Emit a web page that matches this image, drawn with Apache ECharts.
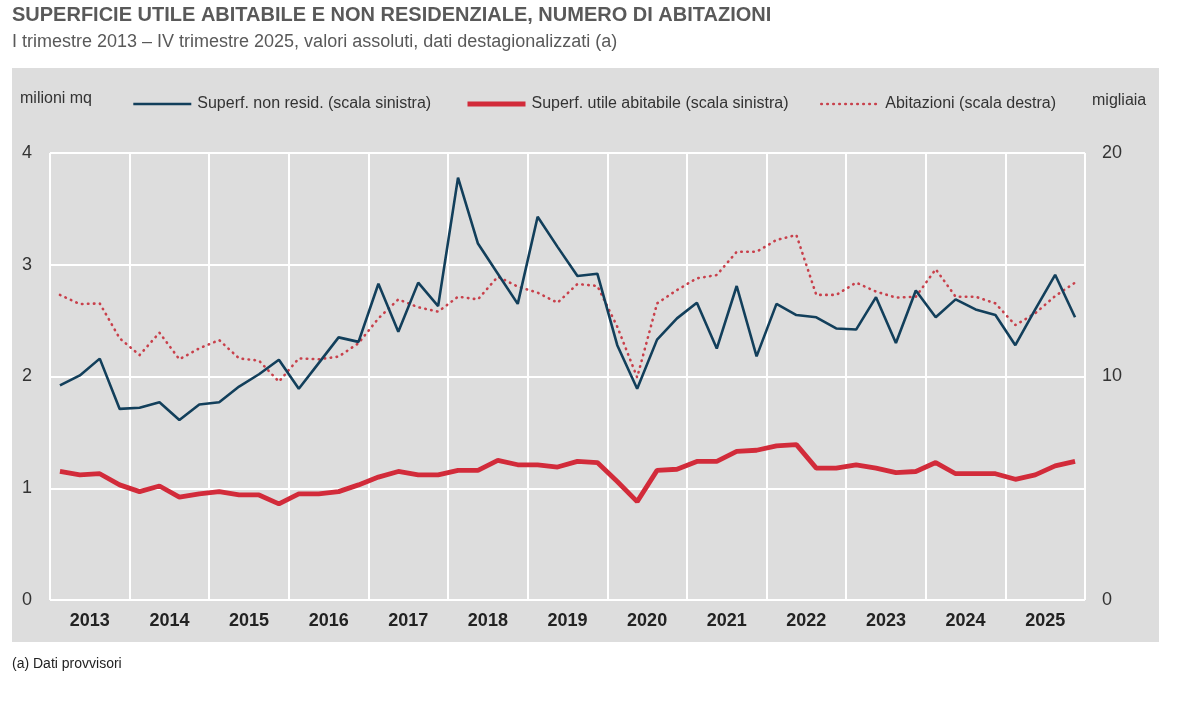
<!DOCTYPE html>
<html>
<head>
<meta charset="utf-8">
<script src="https://cdn.jsdelivr.net/npm/echarts@6/dist/echarts.min.js"></script>
<style>
  html, body { margin: 0; padding: 0; background: #fff; }
  #main { width: 1200px; height: 708px; }
</style>
</head>
<body>
<div id="main"></div>
<script>
// years on the axis, one band of four quarters each
const years = ["2013", "2014", "2015", "2016", "2017", "2018", "2019", "2020", "2021", "2022", "2023", "2024", "2025"];
const quarters = [];
years.forEach((y) => ["I", "II", "III", "IV"].forEach((q) => quarters.push(q + " " + y)));

// milioni mq, scala sinistra
const nonResid = [
  1.92, 2.01, 2.16, 1.71, 1.72, 1.77, 1.61, 1.75,
  1.77, 1.91, 2.02, 2.15, 1.89, 2.12, 2.35, 2.31,
  2.83, 2.40, 2.84, 2.63, 3.78, 3.19, 2.92, 2.65,
  3.43, 3.16, 2.90, 2.92, 2.28, 1.89, 2.33, 2.52,
  2.66, 2.25, 2.81, 2.18, 2.65, 2.55, 2.53, 2.43,
  2.42, 2.71, 2.30, 2.77, 2.53, 2.69, 2.60, 2.55,
  2.28, 2.60, 2.91, 2.53,
];
const utileAbitabile = [
  1.15, 1.12, 1.13, 1.03, 0.97, 1.02, 0.92, 0.95,
  0.97, 0.94, 0.94, 0.86, 0.95, 0.95, 0.97, 1.03,
  1.10, 1.15, 1.12, 1.12, 1.16, 1.16, 1.25, 1.21,
  1.21, 1.19, 1.24, 1.23, 1.06, 0.88, 1.16, 1.17,
  1.24, 1.24, 1.33, 1.34, 1.38, 1.39, 1.18, 1.18,
  1.21, 1.18, 1.14, 1.15, 1.23, 1.13, 1.13, 1.13,
  1.08, 1.12, 1.20, 1.24,
];
// migliaia, scala destra
const abitazioni = [
  13.65, 13.24, 13.27, 11.71, 10.96, 11.96, 10.77, 11.26,
  11.63, 10.81, 10.71, 9.77, 10.81, 10.77, 10.89, 11.49,
  12.60, 13.45, 13.10, 12.90, 13.57, 13.45, 14.47, 14.02,
  13.75, 13.30, 14.14, 14.05, 12.23, 9.96, 13.27, 13.87,
  14.39, 14.54, 15.58, 15.58, 16.11, 16.33, 13.65, 13.65,
  14.20, 13.80, 13.53, 13.57, 14.80, 13.57, 13.57, 13.27,
  12.30, 12.83, 13.60, 14.20,
];

const leftTicks = [0, 1, 2, 3, 4];
const rightTicks = [0, 10, 20];

const names = [
  "Superf. non resid. (scala sinistra)",
  "Superf. utile abitabile (scala sinistra)",
  "Abitazioni (scala destra)",
];

const font = '"Liberation Sans Narrow", "Liberation Sans", Arial, sans-serif';
const blue = "#123f5b";
const red = "#d22b3a";
const dotRed = "#c8404b";

const myChart = echarts.init(document.getElementById("main"));

// one legend per item so each can sit where the reference has it
const legendItem = (name, left, lineStyle) => ({
  data: [name],
  left: left,
  top: 91,
  itemWidth: 58,
  itemHeight: 14,
  itemGap: 0,
  itemStyle: { opacity: 0 },
  lineStyle: lineStyle,
  textStyle: { fontFamily: font, fontSize: 16, color: "#333", padding: [0, 0, 0, 1] },
});

const option = {
  backgroundColor: "#fff",
  animation: false,
  graphic: [
    { type: "rect", z: -100, silent: true, shape: { x: 12, y: 68, width: 1147, height: 574 }, style: { fill: "#dddddd" } },
    { type: "text", left: 12, top: 5, style: { text: "SUPERFICIE UTILE ABITABILE E NON RESIDENZIALE, NUMERO DI ABITAZIONI", font: "bold 20px " + font, fill: "#595959" } },
    { type: "text", left: 12, top: 33, style: { text: "I trimestre 2013 \u2013 IV trimestre 2025, valori assoluti, dati destagionalizzati (a)", font: "18px " + font, fill: "#595959" } },
    { type: "text", left: 20, top: 91, style: { text: "milioni mq", font: "16px " + font, fill: "#333" } },
    { type: "text", left: 1092, top: 93, style: { text: "migliaia", font: "16px " + font, fill: "#333" } },
    { type: "text", left: 12, top: 657, style: { text: "(a) Dati provvisori", font: "14px " + font, fill: "#222" } },
  ],
  legend: [
    legendItem(names[0], 127, { width: 2.6 }),
    legendItem(names[1], 460, { width: 5 }),
    legendItem(names[2], 815, { width: 2.6 }),
  ],
  grid: { left: 50, right: 115, top: 153, bottom: 108 },
  xAxis: [
    {
      type: "category",
      data: quarters,
      boundaryGap: true,
      show: false,
    },
    {
      type: "category",
      data: years,
      boundaryGap: true,
      position: "bottom",
      axisLine: { show: false },
      axisTick: { show: false },
      axisLabel: { fontFamily: font, fontSize: 18, fontWeight: "bold", color: "#222", margin: 12 },
      splitLine: { show: true, lineStyle: { color: "#fff", width: 2 } },
    },
  ],
  yAxis: [
    {
      type: "value",
      min: leftTicks[0],
      max: leftTicks[leftTicks.length - 1],
      interval: 1,
      axisLine: { show: false },
      axisTick: { show: false },
      axisLabel: { fontFamily: font, fontSize: 18, color: "#333", margin: 18 },
      splitLine: { show: true, lineStyle: { color: "#fff", width: 2 } },
    },
    {
      type: "value",
      min: rightTicks[0],
      max: rightTicks[rightTicks.length - 1],
      interval: 10,
      axisLine: { show: false },
      axisTick: { show: false },
      axisLabel: { fontFamily: font, fontSize: 18, color: "#333", margin: 17 },
      splitLine: { show: false },
    },
  ],
  series: [
    {
      name: names[2],
      type: "line",
      xAxisIndex: 0,
      yAxisIndex: 1,
      data: abitazioni,
      symbol: "none",
      lineStyle: { color: dotRed, width: 2.6, type: [0.5, 5.5], cap: "round" },
      itemStyle: { color: dotRed },
      z: 3,
    },
    {
      name: names[0],
      type: "line",
      xAxisIndex: 0,
      yAxisIndex: 0,
      data: nonResid,
      symbol: "none",
      lineStyle: { color: blue, width: 2.6 },
      itemStyle: { color: blue },
      z: 4,
    },
    {
      name: names[1],
      type: "line",
      xAxisIndex: 0,
      yAxisIndex: 0,
      data: utileAbitabile,
      symbol: "none",
      lineStyle: { color: red, width: 4.8 },
      itemStyle: { color: red },
      z: 5,
    },
  ],
};

myChart.setOption(option);
</script>
</body>
</html>
